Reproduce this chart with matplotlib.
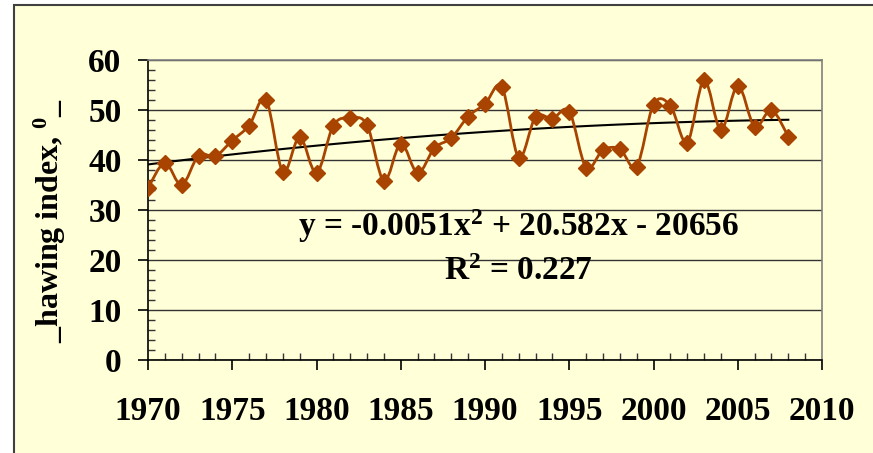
import numpy as np
import matplotlib
matplotlib.use("Agg")
import matplotlib.pyplot as plt
from matplotlib.path import Path
from matplotlib.patches import PathPatch, Rectangle
from matplotlib.ticker import MultipleLocator

plt.rcParams['font.family'] = ['Liberation Serif', 'DejaVu Serif']
plt.rcParams['font.weight'] = 'bold'
plt.rcParams['mathtext.fontset'] = 'custom'
plt.rcParams['mathtext.rm'] = 'Liberation Serif:bold'
plt.rcParams['mathtext.it'] = 'Liberation Serif:bold'
plt.rcParams['mathtext.bf'] = 'Liberation Serif:bold'

# yearly index values
years = np.arange(1970, 2009)
index_values = [34.4, 39.4, 35.0, 40.9, 40.8, 43.9, 46.9, 52.1, 37.7, 44.6,
                37.4, 46.9, 48.4, 47.0, 35.8, 43.3, 37.4, 42.4, 44.4, 48.7,
                51.2, 54.6, 40.5, 48.6, 48.3, 49.7, 38.5, 42.0, 42.2, 38.7,
                51.1, 50.9, 43.5, 56.0, 46.0, 54.9, 46.7, 50.0, 44.7]
equation_text = "y = -0.0051x$^{2}$ + 20.582x - 20656"
r2_text = "R$^{2}$ = 0.227"
ylabel_text = "_hawing index, $^{0}$_"

BROWN = '#A84300'
CREAM = '#FFFFD8'

fig = plt.figure(figsize=(8.73, 4.53), dpi=100, facecolor='white')
# outer chart frame, open on the right and bottom edges
fig.patches.append(Rectangle((14 / 873, -0.1), 1.0, 1.1 - 5 / 453,
                             transform=fig.transFigure, facecolor=CREAM,
                             edgecolor='#404040', lw=1.5, zorder=-10))

ax = fig.add_axes([148 / 873, 1 - 360 / 453, 674 / 873, 300 / 453])
ax.set_facecolor(CREAM)
ax.set_xlim(1970, 2010)
ax.set_ylim(0, 60)

# smoothed line through the points (cubic bezier segments)
x = years.astype(float)
y = np.asarray(index_values, dtype=float)
pts = np.column_stack([x, y])
verts = [pts[0]]
codes = [Path.MOVETO]
n = len(pts)
for i in range(n - 1):
    p0 = pts[max(i - 1, 0)]
    p1 = pts[i]
    p2 = pts[i + 1]
    p3 = pts[min(i + 2, n - 1)]
    verts += [p1 + (p2 - p0) / 6, p2 - (p3 - p1) / 6, p2]
    codes += [Path.CURVE4] * 3
ax.add_patch(PathPatch(Path(verts, codes), facecolor='none', edgecolor=BROWN,
                       lw=2, zorder=3))
ax.plot(x, y, linestyle='none', marker='D', markersize=8.5,
        color=BROWN, zorder=4)

# quadratic trend
coef = np.polyfit(x, y, 2)
ax.plot(x, np.polyval(coef, x), color='black', lw=1.5, zorder=2)

ax.text(1992, 26.8, equation_text, ha='center', va='center', fontsize=24,
        fontweight='bold')
ax.text(1992, 17.6, r2_text, ha='center', va='center', fontsize=24,
        fontweight='bold')

# axes styling
for side in ['top', 'right']:
    ax.spines[side].set_color('#808080')
    ax.spines[side].set_linewidth(1.2)
for side in ['left', 'bottom']:
    ax.spines[side].set_color('black')
    ax.spines[side].set_linewidth(1.2)
ax.yaxis.set_major_locator(MultipleLocator(10))
ax.yaxis.set_minor_locator(MultipleLocator(2))
ax.xaxis.set_major_locator(MultipleLocator(5))
ax.xaxis.set_minor_locator(MultipleLocator(1))
ax.tick_params(which='major', direction='out', length=7, width=1.2,
               labelsize=24, color='black')
ax.tick_params(which='minor', direction='in', length=5, width=1, color='#333333')
ax.tick_params(axis='x', which='major', pad=19)
ax.tick_params(axis='y', which='major', pad=12)
for lbl in ax.get_xticklabels() + ax.get_yticklabels():
    lbl.set_fontweight('bold')
ax.grid(axis='y', which='major', color='#333333', lw=1)
ax.set_axisbelow(True)

fig.text(50 / 873, 1 - 221 / 453, ylabel_text, rotation=90, ha='center',
         va='center', fontsize=23, fontweight='bold')

fig.savefig('out.png', dpi=100, facecolor=fig.get_facecolor())
